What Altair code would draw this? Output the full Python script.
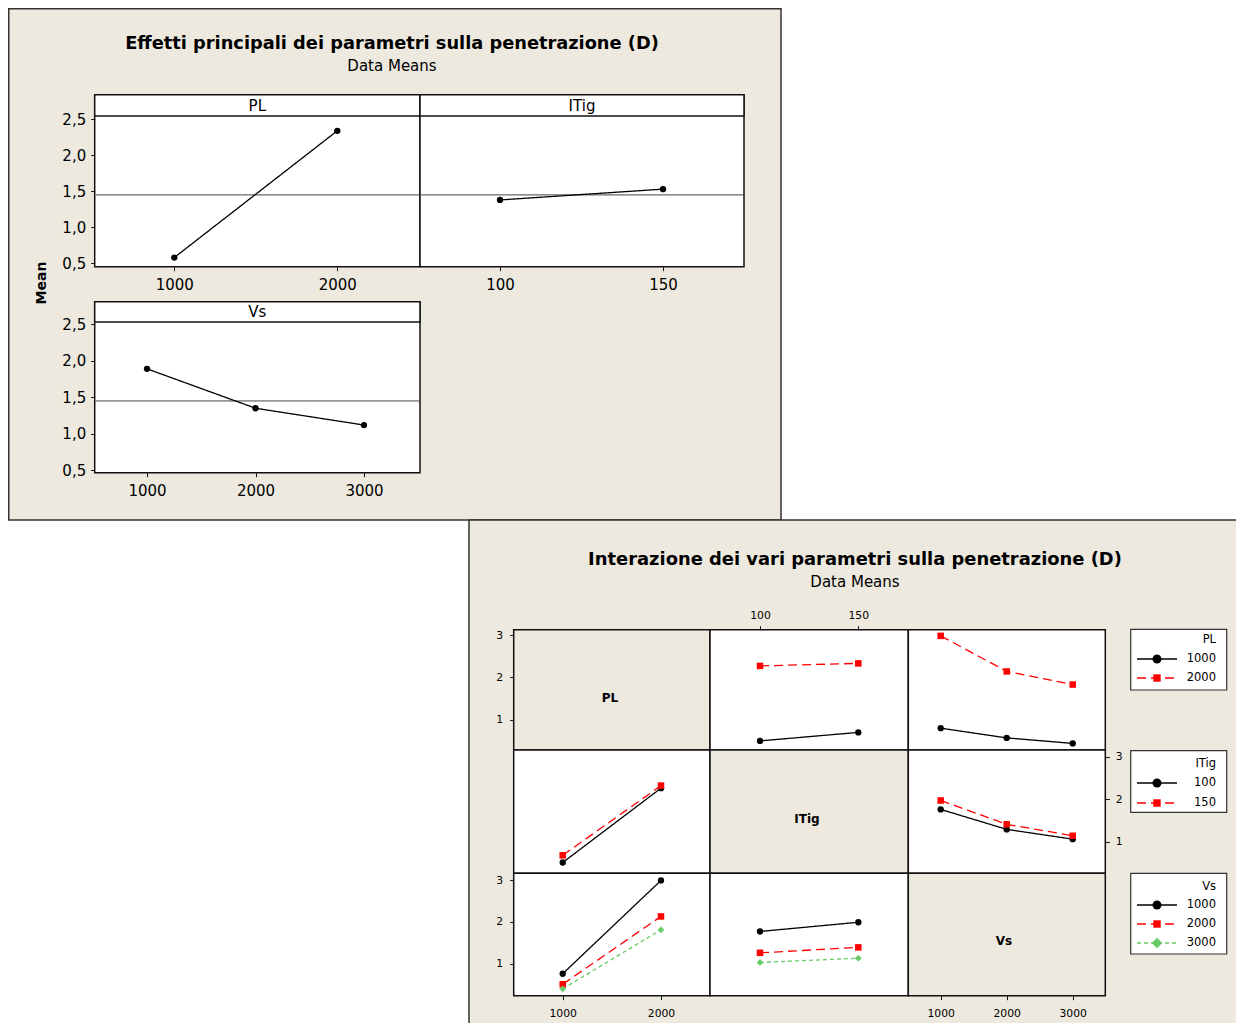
import altair as alt
import pandas as pd

# ---------------- data ----------------
PL_LEVELS = [1000, 2000]
ITIG_LEVELS = [100, 150]
VS_LEVELS = [1000, 2000, 3000]

GRAND_MEAN = 1.45
MAIN_PL = [0.58, 2.34]
MAIN_ITIG = [1.38, 1.53]
MAIN_VS = [1.89, 1.35, 1.12]

# interaction means: one list per trace level, across the x-factor levels
PL1000_BY_ITIG = [0.50, 0.70]
PL2000_BY_ITIG = [2.27, 2.33]
PL1000_BY_VS = [0.80, 0.57, 0.44]
PL2000_BY_VS = [2.98, 2.14, 1.83]
ITIG100_BY_PL = [0.51, 2.26]
ITIG150_BY_PL = [0.68, 2.32]
ITIG100_BY_VS = [1.76, 1.29, 1.06]
ITIG150_BY_VS = [1.97, 1.41, 1.14]
VS1000_BY_PL = [0.76, 2.99]
VS2000_BY_PL = [0.51, 2.13]
VS3000_BY_PL = [0.40, 1.81]
VS1000_BY_ITIG = [1.77, 1.99]
VS2000_BY_ITIG = [1.26, 1.39]
VS3000_BY_ITIG = [1.03, 1.13]

MAIN_Y_TICKS = [0.5, 1.0, 1.5, 2.0, 2.5]
INT_Y_TICKS = [1, 2, 3]

TITLE_MAIN = "Effetti principali dei parametri sulla penetrazione (D)"
TITLE_INT = "Interazione dei vari parametri sulla penetrazione (D)"
SUBTITLE = "Data Means"

# ---------------- layout / style ----------------
W, H = 1228, 1015
OFF = 8  # page margin: screen px -> chart px
BEIGE = "#EDE9DF"
INK = "#111111"
FONT = "DejaVu Sans"
KEYS = ["0", "1", "2"]
COLORS = ["#000000", "#FF0000", "#66CC66"]
DASHES = [[1, 0], [9, 5], [4, 3]]
SHAPES = ["circle", "square", "diamond"]
SIZES = [40, 45, 80]
LEGEND_SIZES = [80, 55, 110]
COMMA = "replace(format(datum.value, '.1f'), '.', ',')"
PLAIN = "format(datum.value, 'd')"


def px(v):
    return round(v - OFF, 2)


def blank():
    return alt.Chart(alt.Data(values=[{"k": 1}]))


def box(x1, y1, x2, y2, fill, stroke=INK, sw=1.5):
    kw = dict(fill=fill)
    if stroke:
        kw.update(stroke=stroke, strokeWidth=sw)
    return blank().mark_rect(**kw).encode(
        x=alt.value(px(x1)), x2=alt.value(px(x2)),
        y=alt.value(px(y1)), y2=alt.value(px(y2)))


def label(s, x, y, size, bold=False, align="center", baseline="middle", angle=0):
    kw = dict(text=s, font=FONT, fontSize=size,
              fontWeight="bold" if bold else "normal",
              align=align, baseline=baseline, color="black")
    if angle:
        kw["angle"] = angle
    return blank().mark_text(**kw).encode(x=alt.value(px(x)), y=alt.value(px(y)))


def make_axis(orient, pos, values, size, expr, pad):
    p = px(pos)
    if orient == "left":
        off = -p
    elif orient == "right":
        off = p - W
    elif orient == "top":
        off = -p
    else:
        off = p - H
    return alt.Axis(orient=orient, offset=off, values=values, title=None, grid=False,
                    domain=False, tickSize=4, tickWidth=1, tickColor=INK,
                    tickCount=20, tickMinStep=0.01,
                    labelColor="black", labelFont=FONT, labelFontSize=size,
                    labelPadding=pad, labelFlush=False, labelOverlap=False,
                    labelExpr=expr, zindex=3)


def series_frame(x_levels, series):
    rows = []
    for k, ys in enumerate(series):
        for xv, yv in zip(x_levels, ys):
            rows.append({"x": xv, "y": yv, "lvl": KEYS[k]})
    return pd.DataFrame(rows)


def mk_scale(m):
    (a, sa), (b, sb) = m
    return alt.Scale(domain=[a, b], range=[px(sa), px(sb)], nice=False, zero=False)


def plot_cell(df, xmap, ymap, xaxis=None, yaxis=None, mean_span=None):
    """Flat list of layers, each with its own (identical, explicit) scales."""
    col = alt.Color("lvl:N", scale=alt.Scale(domain=KEYS, range=COLORS), legend=None)
    dash = alt.StrokeDash("lvl:N", scale=alt.Scale(domain=KEYS, range=DASHES), legend=None)
    shp = alt.Shape("lvl:N", scale=alt.Scale(domain=KEYS, range=SHAPES), legend=None)
    siz = alt.Size("lvl:N", scale=alt.Scale(domain=KEYS, range=SIZES), legend=None)
    out = []
    if mean_span:
        mdf = pd.DataFrame({"m": [GRAND_MEAN]})
        out.append(alt.Chart(mdf).mark_rule(color="#444444", strokeWidth=1).encode(
            y=alt.Y("m:Q", scale=mk_scale(ymap), axis=None),
            x=alt.value(px(mean_span[0])), x2=alt.value(px(mean_span[1]))))
    base = alt.Chart(df)
    out.append(base.mark_line(strokeWidth=1.3).encode(
        x=alt.X("x:Q", scale=mk_scale(xmap), axis=xaxis),
        y=alt.Y("y:Q", scale=mk_scale(ymap), axis=yaxis),
        color=col, strokeDash=dash))
    out.append(base.mark_point(filled=True, opacity=1).encode(
        x=alt.X("x:Q", scale=mk_scale(xmap), axis=None),
        y=alt.Y("y:Q", scale=mk_scale(ymap), axis=None),
        color=col, shape=shp, size=siz))
    return out


def legend(title, levels, box_y, title_y, entry_ys):
    out = [box(1130.7, box_y[0], 1226.7, box_y[1], "white", stroke="#333333", sw=1.2),
           label(title, 1216, title_y, 11.5, align="right")]
    for k, (lv, ey) in enumerate(zip(levels, entry_ys)):
        rk = dict(color=COLORS[k], strokeWidth=1.3)
        if k > 0:
            rk["strokeDash"] = DASHES[k]
        out.append(blank().mark_rule(**rk).encode(
            x=alt.value(px(1137)), x2=alt.value(px(1177)), y=alt.value(px(ey))))
        out.append(blank().mark_point(shape=SHAPES[k], filled=True, size=LEGEND_SIZES[k],
                                      color=COLORS[k], opacity=1).encode(
            x=alt.value(px(1157)), y=alt.value(px(ey))))
        out.append(label(str(lv), 1216, ey, 11.5, align="right"))
    return out


layers = []

# panel backgrounds
layers.append(box(8.75, 8.75, 781, 520, BEIGE, stroke="#333333", sw=1.5))
layers.append(box(469, 520, 1270, 1060, BEIGE, stroke="#333333", sw=1.5))

# ---- main effects frames ----
layers += [
    box(94.7, 94.7, 420, 266.7, "white"), box(94.7, 94.7, 420, 116, "white"),
    box(420, 94.7, 744, 266.7, "white"), box(420, 94.7, 744, 116, "white"),
    box(94.7, 301.7, 420, 472.7, "white"), box(94.7, 301.7, 420, 322, "white"),
]

ROW_ME1 = ((0.5, 263.3), (2.5, 119.3))
ROW_ME2 = ((0.5, 470.3), (2.5, 324.3))
MS = 15  # main-effects tick label size

layers += plot_cell(series_frame(PL_LEVELS, [MAIN_PL]),
                    ((1000, 174.3), (2000, 337.3)), ROW_ME1,
                    xaxis=make_axis("bottom", 266.7, PL_LEVELS, MS, PLAIN, 7),
                    yaxis=make_axis("left", 94.7, MAIN_Y_TICKS, MS, COMMA, 5),
                    mean_span=(95.5, 419.5))
layers += plot_cell(series_frame(ITIG_LEVELS, [MAIN_ITIG]),
                    ((100, 500), (150, 663)), ROW_ME1,
                    xaxis=make_axis("bottom", 266.7, ITIG_LEVELS, MS, PLAIN, 7),
                    mean_span=(420.5, 743.5))
layers += plot_cell(series_frame(VS_LEVELS, [MAIN_VS]),
                    ((1000, 147), (3000, 364)), ROW_ME2,
                    xaxis=make_axis("bottom", 472.7, VS_LEVELS, MS, PLAIN, 7),
                    yaxis=make_axis("left", 94.7, MAIN_Y_TICKS, MS, COMMA, 5),
                    mean_span=(95.5, 419.5))

layers += [
    label("PL", 257.3, 105.5, 15), label("ITig", 582, 105.5, 15), label("Vs", 257.3, 312, 15),
    label(TITLE_MAIN, 392, 49.3, 17.8, bold=True, baseline="alphabetic"),
    label(SUBTITLE, 392, 70.7, 15, baseline="alphabetic"),
    label("Mean", 41.5, 283, 14, bold=True, angle=270),
]

# ---- interaction matrix ----
COLS = [513.7, 710, 908.3, 1105.3]
ROWS = [629.7, 750, 873.3, 995.7]
for i in range(3):
    for j in range(3):
        layers.append(box(COLS[j], ROWS[i], COLS[j + 1], ROWS[i + 1],
                          BEIGE if i == j else "white"))

COL_PL = ((1000, 562.7), (2000, 661))
COL_ITIG = ((100, 760), (150, 858.3))
COL_VS = ((1000, 940.7), (3000, 1072.7))
ROW1 = ((1, 719.7), (3, 635))
ROW2 = ((1, 841.7), (3, 756.7))
ROW3 = ((1, 963.7), (3, 880))
IS = 10.8  # interaction tick label size

layers += plot_cell(series_frame(ITIG_LEVELS, [PL1000_BY_ITIG, PL2000_BY_ITIG]), COL_ITIG, ROW1,
                    xaxis=make_axis("top", 629.7, ITIG_LEVELS, IS, PLAIN, 5),
                    yaxis=make_axis("left", 513.7, INT_Y_TICKS, IS, PLAIN, 7))
layers += plot_cell(series_frame(VS_LEVELS, [PL1000_BY_VS, PL2000_BY_VS]), COL_VS, ROW1)
layers += plot_cell(series_frame(PL_LEVELS, [ITIG100_BY_PL, ITIG150_BY_PL]), COL_PL, ROW2)
layers += plot_cell(series_frame(VS_LEVELS, [ITIG100_BY_VS, ITIG150_BY_VS]), COL_VS, ROW2,
                    xaxis=make_axis("bottom", 995.7, VS_LEVELS, IS, PLAIN, 8),
                    yaxis=make_axis("right", 1105.3, INT_Y_TICKS, IS, PLAIN, 6))
layers += plot_cell(series_frame(PL_LEVELS, [VS1000_BY_PL, VS2000_BY_PL, VS3000_BY_PL]), COL_PL, ROW3,
                    xaxis=make_axis("bottom", 995.7, PL_LEVELS, IS, PLAIN, 8),
                    yaxis=make_axis("left", 513.7, INT_Y_TICKS, IS, PLAIN, 7))
layers += plot_cell(series_frame(ITIG_LEVELS, [VS1000_BY_ITIG, VS2000_BY_ITIG, VS3000_BY_ITIG]),
                    COL_ITIG, ROW3)

layers += [
    label("PL", 610, 698, 12, bold=True),
    label("ITig", 807, 819, 12, bold=True),
    label("Vs", 1004, 940.7, 12, bold=True),
    label(TITLE_INT, 855, 565, 17.9, bold=True, baseline="alphabetic"),
    label(SUBTITLE, 855, 586.7, 15, baseline="alphabetic"),
]

layers += legend("PL", PL_LEVELS, (629.3, 690), 640, [659, 678])
layers += legend("ITig", ITIG_LEVELS, (750.7, 812.3), 764, [783, 803])
layers += legend("Vs", VS_LEVELS, (873.3, 954), 887, [905, 924, 943])

chart = alt.layer(*layers).resolve_scale(
    x="independent", y="independent"
).properties(
    width=W, height=H,
    autosize=alt.AutoSizeParams(type="none"),
    padding={"left": 0, "top": 0, "right": 0, "bottom": 0},
    background="white",
).configure_view(stroke=None)

chart.save("out.html", embed_options={"renderer": "svg", "actions": False})
